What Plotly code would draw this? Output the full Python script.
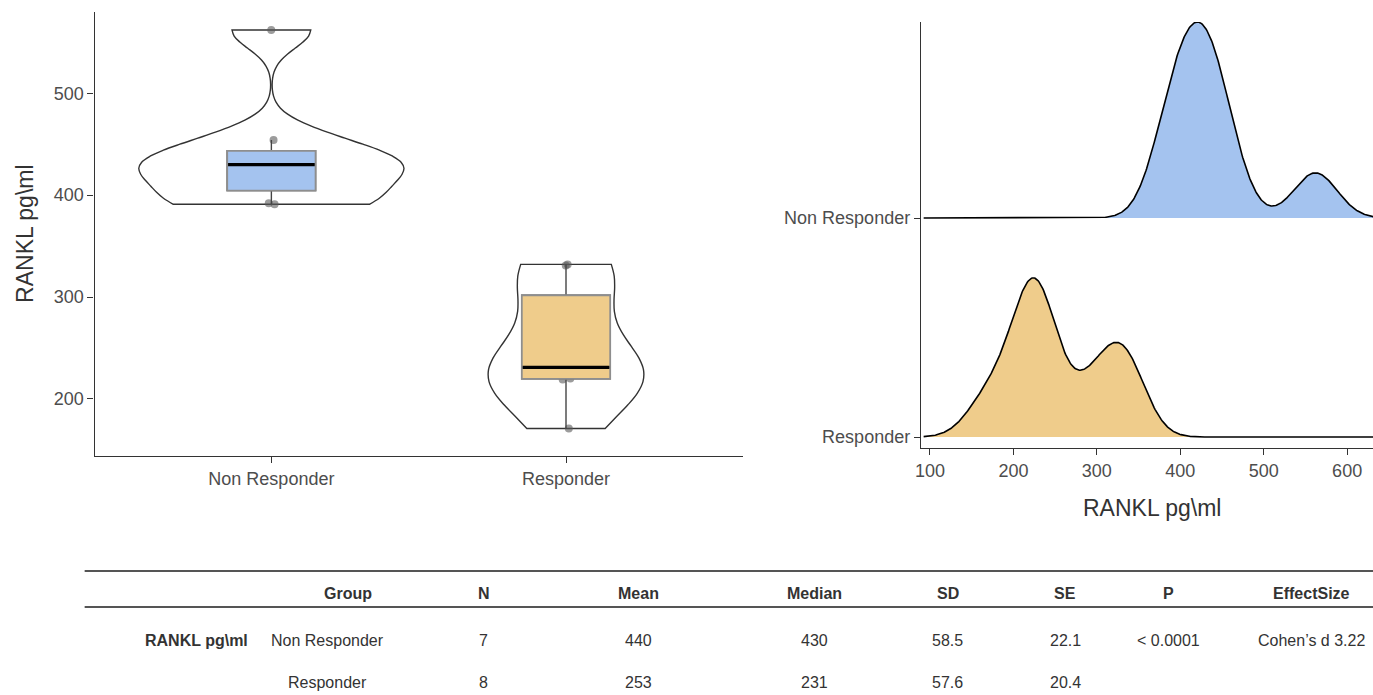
import numpy as np
import plotly.graph_objects as go

# ---------------- data ----------------
groups = ["Non Responder", "Responder"]
nonresp_vals = [391, 392, 417, 430, 433, 454, 562]
resp_vals = [171, 219, 220, 226, 236, 292, 331, 332]
fill_colors = ["#A4C3EF", "#EFCC8B"]
measure_label = "RANKL pg\\ml"
left_yticks = [200, 300, 400, 500]
right_xticks = [100, 200, 300, 400, 500, 600]

table_header = ["", "Group", "N", "Mean", "Median", "SD", "SE", "P", "EffectSize"]
table_row1 = [measure_label, "Non Responder", "7", "440", "430", "58.5", "22.1", "< 0.0001", "Cohen\u2019s d 3.22"]
table_row2 = ["", "Responder", "8", "253", "231", "57.6", "20.4", "", ""]

# ---------------- helpers ----------------
W, H = 1373, 695
FONT = "Liberation Sans, Arial, Helvetica, sans-serif"
TICK_COL = "#4D4D4D"
LINE_COL = "#333333"


def px(x):
    return x / W


def py(y):
    return 1 - y / H


def bw_nrd0(v):
    v = np.asarray(v, float)
    hi = v.std(ddof=1)
    iqr = np.percentile(v, 75) - np.percentile(v, 25)
    lo = min(hi, iqr / 1.34)
    return 0.9 * lo * len(v) ** -0.2


def kde(v, grid, bw):
    v = np.asarray(v, float)[:, None]
    z = (grid[None, :] - v) / bw
    return np.exp(-0.5 * z ** 2).sum(axis=0) / (len(v) * bw * np.sqrt(2 * np.pi))


data = [nonresp_vals, resp_vals]
positions = [1, 2]

fig = go.Figure()

# ---------------- left: violin + box ----------------
vbws = [bw_nrd0(d) for d in data]
maxd = []
for d, bw in zip(data, vbws):
    g = np.linspace(min(d), max(d), 512)
    maxd.append(kde(d, g, bw).max())
vwidths = [0.9 * m / max(maxd) for m in maxd]

for i, d in enumerate(data):
    fig.add_trace(go.Violin(
        x0=positions[i], y=d, bandwidth=vbws[i], spanmode="hard",
        width=vwidths[i], scalemode="width", scalegroup=groups[i],
        fillcolor="white", line=dict(color=LINE_COL, width=1.4),
        points=False, box_visible=False, meanline_visible=False,
        showlegend=False, hoverinfo="skip", xaxis="x", yaxis="y"))

# jittered raw points (drawn as box-trace points so that the boxes cover them)
for i, d in enumerate(data):
    fig.add_trace(go.Box(
        x=[positions[i]] * len(d), y=d, boxpoints="all", jitter=0.14, pointpos=0,
        width=0.3, fillcolor="rgba(0,0,0,0)", line=dict(width=0, color="rgba(0,0,0,0)"),
        marker=dict(size=8, color="rgba(90,90,90,0.6)"),
        showlegend=False, hoverinfo="skip", xaxis="x", yaxis="y"))

medians = []
for i, d in enumerate(data):
    a = np.asarray(d, float)
    q1, med, q3 = np.percentile(a, [25, 50, 75])
    medians.append(med)
    iqr = q3 - q1
    uf = a[a <= q3 + 1.5 * iqr].max()
    lf = a[a >= q1 - 1.5 * iqr].min()
    # whiskers (dark)
    fig.add_trace(go.Box(
        x=[positions[i]], q1=[q1], median=[med], q3=[q3], lowerfence=[lf], upperfence=[uf],
        width=0.3, whiskerwidth=0, fillcolor=fill_colors[i],
        line=dict(color="#444444", width=1.4), boxpoints=False,
        showlegend=False, hoverinfo="skip", xaxis="x", yaxis="y"))
    # box body (grey border)
    fig.add_trace(go.Box(
        x=[positions[i]], q1=[q1], median=[med], q3=[q3], lowerfence=[q1], upperfence=[q3],
        width=0.3, whiskerwidth=0, fillcolor=fill_colors[i],
        line=dict(color="#8E8E8E", width=1.8), boxpoints=False,
        showlegend=False, hoverinfo="skip", xaxis="x", yaxis="y"))

for i, med in enumerate(medians):
    fig.add_trace(go.Scatter(
        x=[positions[i] - 0.147, positions[i] + 0.147], y=[med, med], mode="lines",
        line=dict(color="black", width=3.2), showlegend=False, hoverinfo="skip",
        xaxis="x", yaxis="y"))

# ---------------- right: density ridges ----------------
joint_bw = np.mean([bw_nrd0(d) for d in data])
allv = np.concatenate([np.asarray(d, float) for d in data])
grid = np.linspace(allv.min() - 3 * joint_bw, allv.max() + 3 * joint_bw, 600)
dens = [kde(d, grid, joint_bw) for d in data]
scale_k = 0.895 / max(dd.max() for dd in dens)
ridge_pos = [2, 1]  # Non Responder on top

for i, dd in enumerate(dens):
    base = ridge_pos[i]
    fig.add_trace(go.Scatter(
        x=grid, y=np.full_like(grid, base), mode="lines", line=dict(width=0, color="rgba(0,0,0,0)"),
        showlegend=False, hoverinfo="skip", xaxis="x2", yaxis="y2"))
    fig.add_trace(go.Scatter(
        x=grid, y=base + dd * scale_k, mode="lines", fill="tonexty",
        fillcolor=fill_colors[i], line=dict(color="black", width=1.6),
        showlegend=False, hoverinfo="skip", xaxis="x2", yaxis="y2"))

# ---------------- axes ----------------
axis_common = dict(showline=True, linecolor=LINE_COL, linewidth=1.4, ticks="outside",
                   ticklen=6, tickwidth=1.4, tickcolor=LINE_COL, showgrid=False,
                   zeroline=False, tickfont=dict(size=18, color=TICK_COL, family=FONT))

fig.update_layout(
    width=W, height=H, margin=dict(l=0, r=0, t=0, b=0),
    paper_bgcolor="white", plot_bgcolor="white",
    font=dict(family=FONT, color="#333333"),
    violinmode="overlay", boxmode="overlay",
    xaxis=dict(domain=[px(89), px(740)], range=[0.4, 2.6], type="linear",
               tickvals=positions, ticktext=groups, anchor="y", **axis_common),
    yaxis=dict(domain=[py(456), py(12)], range=[144, 579.7], tickvals=left_yticks,
               anchor="x", **axis_common),
    xaxis2=dict(domain=[px(919), 1.0], range=[89.2, 631], tickvals=right_xticks,
                anchor="y2", **axis_common),
    yaxis2=dict(domain=[py(448), py(22)], range=[0.95, 2.895], tickvals=[2, 1],
                ticktext=groups, anchor="x2", **axis_common),
)

annotations = [
    dict(text=measure_label, x=px(19), y=py(234), xref="paper", yref="paper",
         textangle=-90, showarrow=False, font=dict(size=23, color="#333333", family=FONT),
         xanchor="center", yanchor="middle"),
    dict(text=measure_label, x=px(1151), y=py(508), xref="paper", yref="paper",
         showarrow=False, font=dict(size=23, color="#333333", family=FONT),
         xanchor="center", yanchor="middle"),
]

# ---------------- table ----------------
col_x = [245, 343, 480, 635, 812, 946, 1064, 1168, 1311]
group_val_x = 323
hdr_y, r1_y, r2_y = 593, 640, 682
TFONT = dict(size=16, color="#333333", family=FONT)

for j, t in enumerate(table_header):
    if not t:
        continue
    annotations.append(dict(text="<b>%s</b>" % t, x=px(col_x[j]), y=py(hdr_y), xref="paper", yref="paper",
                            showarrow=False, xanchor="center", yanchor="middle", font=TFONT))
for row, yy in ((table_row1, r1_y), (table_row2, r2_y)):
    for j, t in enumerate(row):
        if not t:
            continue
        if j == 0:
            annotations.append(dict(text="<b>%s</b>" % t, x=px(col_x[0]), y=py(yy), xref="paper",
                                    yref="paper", showarrow=False, xanchor="right", yanchor="middle",
                                    font=TFONT))
        else:
            xx = group_val_x if j == 1 else col_x[j]
            annotations.append(dict(text=t, x=px(xx), y=py(yy), xref="paper", yref="paper",
                                    showarrow=False, xanchor="center", yanchor="middle", font=TFONT))

shapes = [
    dict(type="line", xref="paper", yref="paper", x0=px(79), x1=1.0, y0=py(571), y1=py(571),
         line=dict(color="#555555", width=2)),
    dict(type="line", xref="paper", yref="paper", x0=px(79), x1=1.0, y0=py(607), y1=py(607),
         line=dict(color="#555555", width=2)),
]

fig.update_layout(annotations=annotations, shapes=shapes)
fig.write_html(
    "out.html",
    config={"displayModeBar": False},
    post_script="document.body.style.margin='0';document.body.style.padding='0';"
                "document.body.style.overflow='hidden';",
)
